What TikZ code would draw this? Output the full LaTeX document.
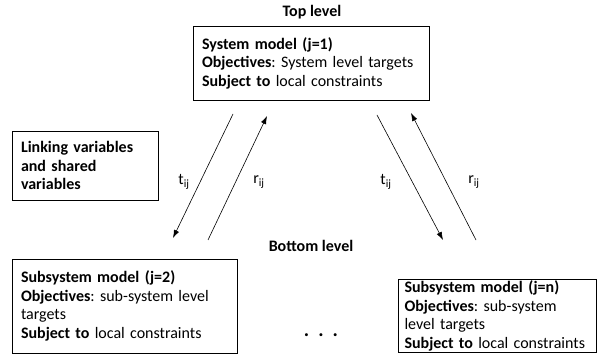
\documentclass[tikz,border=0pt]{standalone}
\usepackage{fontspec}
\setmainfont{Carlito}
\usetikzlibrary{arrows.meta,calc}
\begin{document}
\frenchspacing
\begin{tikzpicture}[x=1pt,y=1pt,
  every node/.style={font=\fontsize{16}{18.5}\selectfont},
  modelbox/.style={draw=black,line width=0.8pt,align=left,inner xsep=9pt,inner ysep=3pt},
  flow/.style={line width=0.6pt,-{Latex[length=8pt,width=5.5pt]}},
  lbl/.style={inner sep=0pt}
]
\useasboundingbox (0,0) rectangle (598,354);
\node (toplab) at (312,342) {\textbf{Top level}};
\node (botlab) at (311,108) {\textbf{Bottom level}};
\node[modelbox,text width=218pt,minimum height=74pt] (top) at (311,291)
  {\textbf{System model (j=1)}\\\textbf{Objectives}: System level targets\\\textbf{Subject to} local constraints};
\node[modelbox,text width=128pt,minimum height=69pt] (link) at (85,188.5)
  {\textbf{Linking variables}\\\textbf{and shared}\\\textbf{variables}};
\node[modelbox,text width=207pt,minimum height=94pt] (left) at (124.5,48)
  {\textbf{Subsystem model (j=2)}\\\textbf{Objectives}: sub-system level\\targets\\\textbf{Subject to} local constraints};
\node[modelbox,inner xsep=6pt,inner ysep=1.5pt,text width=186pt,minimum height=72pt] (right) at (497.5,38)
  {\textbf{Subsystem model (j=n)}\\\textbf{Objectives}: sub-system\\level targets\\\textbf{Subject to} local constraints};
\node[font=\fontsize{20}{22}\selectfont] (dots) at (321,19) {\textbf{.\hspace{9pt}.\hspace{9pt}.}};
% arrow end points
\coordinate (lt1) at (233,240); \coordinate (lt2) at (173,116);
\coordinate (lr1) at (208,114); \coordinate (lr2) at (267,238);
\coordinate (rt1) at (377,239); \coordinate (rt2) at (443,114);
\coordinate (rr1) at (476,114); \coordinate (rr2) at (411,241);
\draw[flow] (lt1) -- (lt2);
\draw[flow] (lr1) -- (lr2);
\draw[flow] (rt1) -- (rt2);
\draw[flow] (rr1) -- (rr2);
\node[lbl] (tl) at (184,172) {t\textsubscript{ij}};
\node[lbl] (rl) at (259,172) {r\textsubscript{ij}};
\node[lbl] (tr) at (386,172) {t\textsubscript{ij}};
\node[lbl] (rr) at (474,172) {r\textsubscript{ij}};
\end{tikzpicture}
\end{document}
